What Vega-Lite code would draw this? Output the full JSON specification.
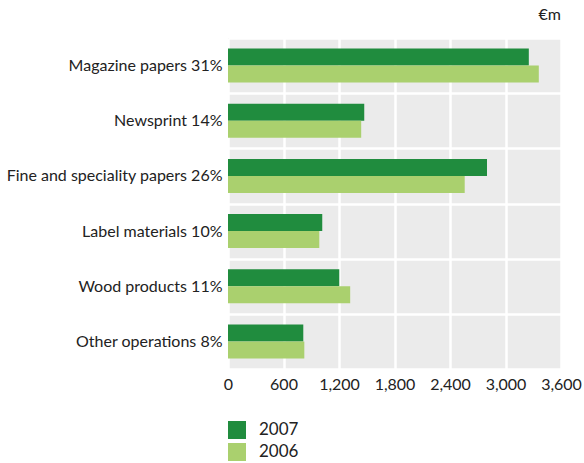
{
  "$schema": "https://vega.github.io/schema/vega-lite/v6.json",
  "width": 333,
  "height": 331,
  "padding": {"left": 5, "top": 7, "right": 5, "bottom": 0},
  "background": "white",
  "title": {
    "text": "€m",
    "anchor": "end",
    "frame": "group",
    "fontSize": 16,
    "fontWeight": "normal",
    "font": "Lato",
    "color": "#222222",
    "offset": 7
  },
  "data": {
    "values": [
      {"segment": "Magazine papers 31%", "year": "2007", "sales": 3252},
      {"segment": "Magazine papers 31%", "year": "2006", "sales": 3360},
      {"segment": "Newsprint 14%", "year": "2007", "sales": 1473},
      {"segment": "Newsprint 14%", "year": "2006", "sales": 1440},
      {"segment": "Fine and speciality papers 26%", "year": "2007", "sales": 2800},
      {"segment": "Fine and speciality papers 26%", "year": "2006", "sales": 2559},
      {"segment": "Label materials 10%", "year": "2007", "sales": 1019},
      {"segment": "Label materials 10%", "year": "2006", "sales": 987},
      {"segment": "Wood products 11%", "year": "2007", "sales": 1203},
      {"segment": "Wood products 11%", "year": "2006", "sales": 1321},
      {"segment": "Other operations 8%", "year": "2007", "sales": 814},
      {"segment": "Other operations 8%", "year": "2006", "sales": 825}
    ]
  },
  "mark": {"type": "bar"},
  "encoding": {
    "y": {
      "field": "segment",
      "type": "nominal",
      "sort": null,
      "scale": {"paddingInner": 0, "paddingOuter": 0},
      "axis": {
        "title": null,
        "domain": false,
        "ticks": false,
        "grid": true,
        "tickBand": "extent",
        "gridColor": "white",
        "gridWidth": 2.5,
        "gridOpacity": 1,
        "labelFont": "Lato",
        "labelFontSize": 16,
        "labelColor": "#222222",
        "labelPadding": 6,
        "labelLimit": 300,
        "minExtent": 222,
        "maxExtent": 222
      }
    },
    "yOffset": {
      "field": "year",
      "type": "nominal",
      "sort": ["2007", "2006"],
      "scale": {"paddingInner": 0, "paddingOuter": 0.62}
    },
    "x": {
      "field": "sales",
      "type": "quantitative",
      "scale": {"domain": [0, 3600], "nice": false},
      "axis": {
        "title": null,
        "values": [0, 600, 1200, 1800, 2400, 3000, 3600],
        "format": ",d",
        "domain": false,
        "ticks": false,
        "grid": true,
        "gridColor": "white",
        "gridWidth": 2.5,
        "gridOpacity": 1,
        "labelFont": "Lato",
        "labelFontSize": 16,
        "labelColor": "#222222",
        "labelPadding": 7,
        "labelFlush": false,
        "labelOverlap": false
      }
    },
    "color": {
      "field": "year",
      "type": "nominal",
      "scale": {"domain": ["2007", "2006"], "range": ["#208c3e", "#aad06e"]},
      "legend": {
        "title": null,
        "orient": "none",
        "legendX": 0,
        "legendY": 383,
        "direction": "vertical",
        "symbolType": "square",
        "symbolSize": 324,
        "symbolStrokeWidth": 0,
        "symbolOpacity": 1,
        "labelFont": "Lato",
        "labelFontSize": 17,
        "labelColor": "#222222",
        "labelOffset": 13,
        "rowPadding": 4
      }
    }
  },
  "config": {
    "view": {"fill": "#ebebeb", "stroke": null}
  }
}
